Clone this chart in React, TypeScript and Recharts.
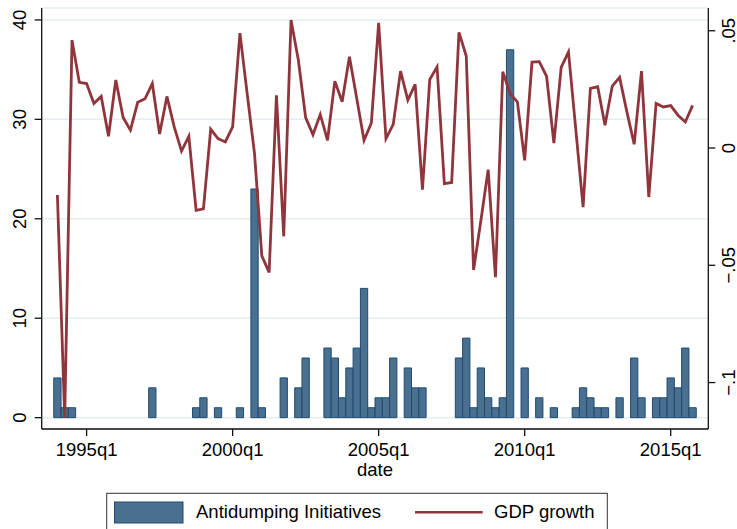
import React from 'react';
import { ComposedChart, Bar, Line, XAxis, YAxis, CartesianGrid } from 'recharts';

// quarters 1994q1 .. 2015q4
const startYear = 1994;
const quarters: string[] = [];
for (let y = startYear; y <= 2015; y++) for (let q = 1; q <= 4; q++) quarters.push(`${y}q${q}`);

const antidumping = [
  4, 1, 1, 0, 0, 0, 0, 0, 0, 0,
  0, 0, 0, 3, 0, 0, 0, 0, 0, 1,
  2, 0, 1, 0, 0, 1, 0, 23, 1, 0,
  0, 4, 0, 3, 6, 0, 0, 7, 6, 2,
  5, 7, 13, 1, 2, 2, 6, 0, 5, 3,
  3, 0, 0, 0, 0, 6, 8, 1, 5, 2,
  1, 2, 37, 0, 5, 0, 2, 0, 1, 0,
  0, 1, 3, 2, 1, 1, 0, 2, 0, 6,
  2, 0, 2, 2, 4, 3, 7, 1,
];

const gdpGrowth = [
  -0.020, -0.115, 0.046, 0.028, 0.0275, 0.019, 0.022, 0.005, 0.029, 0.013,
  0.0076, 0.0195, 0.021, 0.0275, 0.006, 0.022, 0.009, -0.0013, 0.005, -0.0266,
  -0.0259, 0.008, 0.004, 0.0026, 0.009, 0.049, 0.023, -0.0024, -0.046, -0.053,
  0.0225, -0.0377, 0.0546, 0.0375, 0.013, 0.0057, 0.0143, 0.0033, 0.0285, 0.0197,
  0.0389, 0.0211, 0.0033, 0.0107, 0.0534, 0.004, 0.0101, 0.0328, 0.0204, 0.0271,
  -0.0178, 0.0292, 0.0346, -0.0152, -0.0147, 0.0493, 0.0392, -0.052, -0.031, -0.0092,
  -0.0551, 0.0325, 0.0232, 0.0197, -0.0053, 0.0366, 0.0368, 0.0306, 0.0021, 0.0344,
  0.041, 0.0079, -0.0252, 0.0254, 0.0261, 0.0097, 0.0264, 0.0301, 0.0154, 0.0016,
  0.0328, -0.0209, 0.019, 0.0175, 0.0181, 0.014, 0.0111, 0.0182,
];

const xTickLabels = ['1995q1', '2000q1', '2005q1', '2010q1', '2015q1'];
const leftTicks = [0, 10, 20, 30, 40];
const rightTicks = [-0.1, -0.05, 0, 0.05];
const rightTickLabels = ['\u2212.1', '\u2212.05', '0', '.05'];

const data = quarters.map((q, i) => ({ idx: i, date: q, ad: antidumping[i], gdp: gdpGrowth[i] }));
const xTicks = xTickLabels.map((l) => quarters.indexOf(l));

const FONT = '"Liberation Sans", Arial, Helvetica, sans-serif';
const BAR_FILL = '#49708f';
const BAR_STROKE = '#1f4b72';
const LINE_COLOR = '#90353b';
const AXIS = '#111';

const XTick = (props: any) => {
  const { x, y, payload } = props;
  return (
    <text x={x} y={y} dy={17.5} textAnchor="middle" fontSize={18.5} fontFamily={FONT} fill="#000">
      {quarters[payload.value]}
    </text>
  );
};

const LeftTick = (props: any) => {
  const { x, y, payload } = props;
  const bx = x - 6.7;
  return (
    <text x={bx} y={y} transform={`rotate(-90, ${bx}, ${y})`} textAnchor="middle" fontSize={18.5} fontFamily={FONT} fill="#000">
      {payload.value}
    </text>
  );
};

const RightTick = (props: any) => {
  const { x, y, payload } = props;
  const bx = x + 17.3;
  const k = rightTicks.findIndex((t) => Math.abs(t - payload.value) < 1e-9);
  return (
    <text x={bx} y={y} transform={`rotate(-90, ${bx}, ${y})`} textAnchor="middle" fontSize={18.5} fontFamily={FONT} fill="#000">
      {k >= 0 ? rightTickLabels[k] : payload.value}
    </text>
  );
};

export default function App() {
  return (
    <div style={{ position: 'absolute', left: 0, top: 0, width: 737, height: 529, background: '#fff' }}>
      <ComposedChart
        width={737}
        height={529}
        data={data}
        margin={{ top: 8, right: 0, bottom: 70, left: 0 }}
      >
        <CartesianGrid yAxisId="left" vertical={false} stroke="#e4eef1" strokeWidth={1.5} />
        <XAxis
          dataKey="idx"
          type="number"
          domain={[-2.15, 89.15]}
          allowDataOverflow
          ticks={xTicks}
          tick={<XTick />}
          tickSize={7}
          height={30}
          stroke={AXIS}
          strokeWidth={1.3}
          label={{ value: 'date', position: 'insideBottom', offset: -17, fontSize: 18.5, fontFamily: FONT, fill: '#000' }}
        />
        <YAxis
          yAxisId="left"
          orientation="left"
          width={41.7}
          domain={[-1.14, 41.2]}
          allowDataOverflow
          ticks={leftTicks}
          tick={<LeftTick />}
          tickSize={7}
          stroke={AXIS}
          strokeWidth={1.3}
        />
        <YAxis
          yAxisId="right"
          orientation="right"
          width={28.7}
          domain={[-0.1198, 0.0597]}
          allowDataOverflow
          ticks={rightTicks}
          tick={<RightTick />}
          tickSize={7}
          stroke={AXIS}
          strokeWidth={1.3}
        />
        <Bar yAxisId="left" dataKey="ad" fill={BAR_FILL} stroke={BAR_STROKE} strokeWidth={1} barSize={7.3} isAnimationActive={false} />
        <Line yAxisId="right" dataKey="gdp" stroke={LINE_COLOR} strokeWidth={2.8} dot={false} type="linear" isAnimationActive={false} />
      </ComposedChart>
      <svg width={737} height={529} style={{ position: 'absolute', left: 0, top: 0, pointerEvents: 'none' }}>
        <rect x={106.7} y={493.3} width={500.6} height={60} fill="#fff" stroke="#333" strokeWidth={1} />
        <rect x={114.5} y={502} width={68.5} height={21} fill={BAR_FILL} stroke={BAR_STROKE} strokeWidth={1} />
        <text x={196} y={517.7} fontSize={18.5} fontFamily={FONT} fill="#000">Antidumping Initiatives</text>
        <line x1={415} y1={512.3} x2={482.7} y2={512.3} stroke={LINE_COLOR} strokeWidth={2.6} />
        <text x={494} y={517.7} fontSize={18.5} fontFamily={FONT} fill="#000">GDP growth</text>
      </svg>
    </div>
  );
}
